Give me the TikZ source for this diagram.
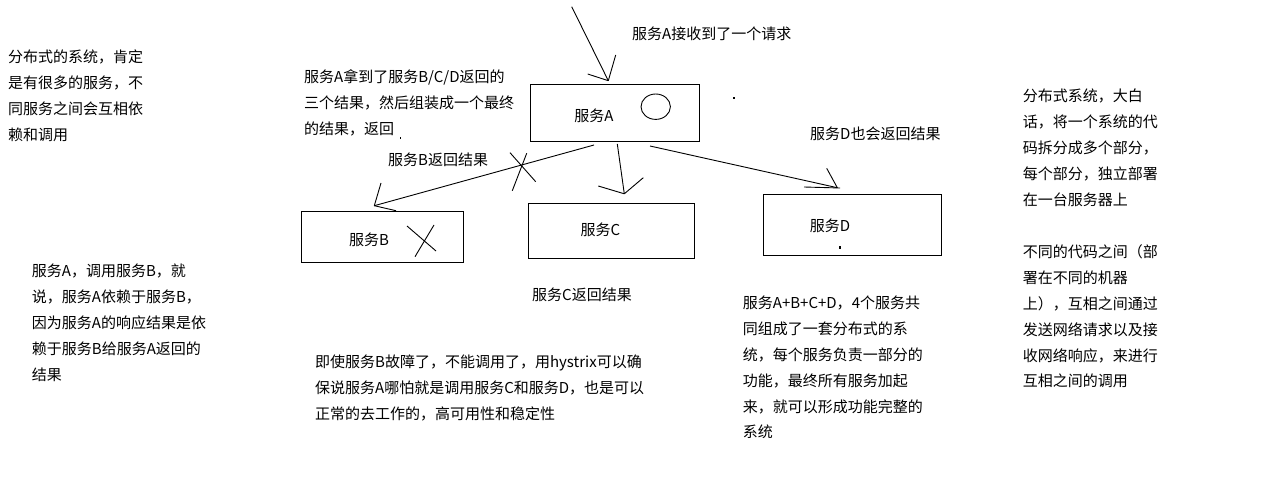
\documentclass[tikz,border=0pt]{standalone}
\usepackage{fontspec}
\setmainfont{Noto Sans CJK SC}
\begin{document}
\begin{tikzpicture}[x=1pt,y=-1pt,
  ln/.style={draw=black,line width=0.9pt},
  box/.style={draw=black,line width=0.9pt,rectangle,inner sep=0pt},
  txt/.style={font=\fontsize{15}{25.9}\selectfont,align=left,anchor=base west,inner sep=0pt,text=black},
  lbl/.style={font=\fontsize{15}{18}\selectfont,inner sep=0pt,text=black}]
\useasboundingbox[fill=white] (0,0) rectangle (1274,500);

% boxes
\node[box,minimum width=169.3pt,minimum height=57.3pt] (A) at (614.7,112.7) {};
\node[box,minimum width=162pt,minimum height=51pt] (B) at (382,237.2) {};
\node[box,minimum width=166pt,minimum height=55pt] (C) at (611.3,230.8) {};
\node[box,minimum width=178.4pt,minimum height=61pt] (D) at (852.5,224.5) {};
\node[lbl] (At) at (594,115.5) {服务A};
\node[lbl] (Bt) at (369,239.5) {服务B};
\node[lbl] (Ct) at (600.5,229.5) {服务C};
\node[lbl] (Dt) at (830,226) {服务D};

% circle in A
\draw[ln] (655.7,106.7) ellipse [x radius=14.7, y radius=12.7];

% incoming request arrow
\coordinate (inS) at (571.7,6.7);
\coordinate (inT) at (608.3,80.7);
\draw[ln] (inS) -- (inT);
\draw[ln] (inT) -- ++(7.4,-25.7);
\draw[ln] (inT) -- ++(-20.6,-6.7);

% A -> B
\coordinate (abS) at (594,145);
\coordinate (abT) at (374.3,205.7);
\draw[ln] (abS) -- (abT);
\draw[ln] (abT) -- ++(6.7,-22.7);
\draw[ln] (abT) -- ++(21.7,5);
% cross on A-B line
\draw[ln] (510,152.7) -- (535.7,181.7);
\draw[ln] (526.7,153.3) -- (512.3,190.7);

% A -> C
\coordinate (acS) at (617.3,144);
\coordinate (acT) at (624.3,193.8);
\draw[ln] (acS) -- (acT);
\draw[ln] (acT) -- ++(-26,-7.8);
\draw[ln] (acT) -- ++(19,-16.1);

% A -> D
\coordinate (adS) at (650,146);
\coordinate (adT) at (837.3,187.7);
\draw[ln] (adS) -- (adT);
\draw[ln] (adT) -- ++(-10.6,-19.4);
\draw[ln] (804,187) -- (840,188);

% cross in B
\draw[ln] (407,226) -- (436,251);
\draw[ln] (434,225) -- (415,256.7);

% stray dots
\fill[black] (732.5,97) rectangle (734.5,99);
\fill[black] (838.5,245.5) rectangle (840.5,249);
\fill[black] (399.5,137.5) rectangle (401,139);

% texts (anchor = baseline of the last line)
\node[txt] (t1) at (8,140.4) {分布式的系统，肯定\\是有很多的服务，不\\同服务之间会互相依\\赖和调用};
\node[txt] (t2) at (632,40) {服务A接收到了一个请求};
\node[txt] (t3) at (304,134.5) {服务A拿到了服务B/C/D返回的\\三个结果，然后组装成一个最终\\的结果，返回};
\node[txt] (t4) at (388,165.7) {服务B返回结果};
\node[txt] (t5) at (810,139.7) {服务D也会返回结果};
\node[txt] (t6) at (532,300.7) {服务C返回结果};
\node[txt] (t7) at (315,419.5) {即使服务B故障了，不能调用了，用hystrix可以确\\保说服务A哪怕就是调用服务C和服务D，也是可以\\正常的去工作的，高可用性和稳定性};
\node[txt] (t8) at (31.7,380) {服务A，调用服务B，就\\说，服务A依赖于服务B，\\因为服务A的响应结果是依\\赖于服务B给服务A返回的\\结果};
\node[txt] (t9) at (742.7,437.9) {服务A+B+C+D，4个服务共\\同组成了一套分布式的系\\统，每个服务负责一部分的\\功能，最终所有服务加起\\来，就可以形成功能完整的\\系统};
\node[txt] (t10) at (1022.7,205) {分布式系统，大白\\话，将一个系统的代\\码拆分成多个部分，\\每个部分，独立部署\\在一台服务器上};
\node[txt] (t11) at (1022.7,386.9) {不同的代码之间（部\\署在不同的机器\\上），互相之间通过\\发送网络请求以及接\\收网络响应，来进行\\互相之间的调用};
\end{tikzpicture}
\end{document}
